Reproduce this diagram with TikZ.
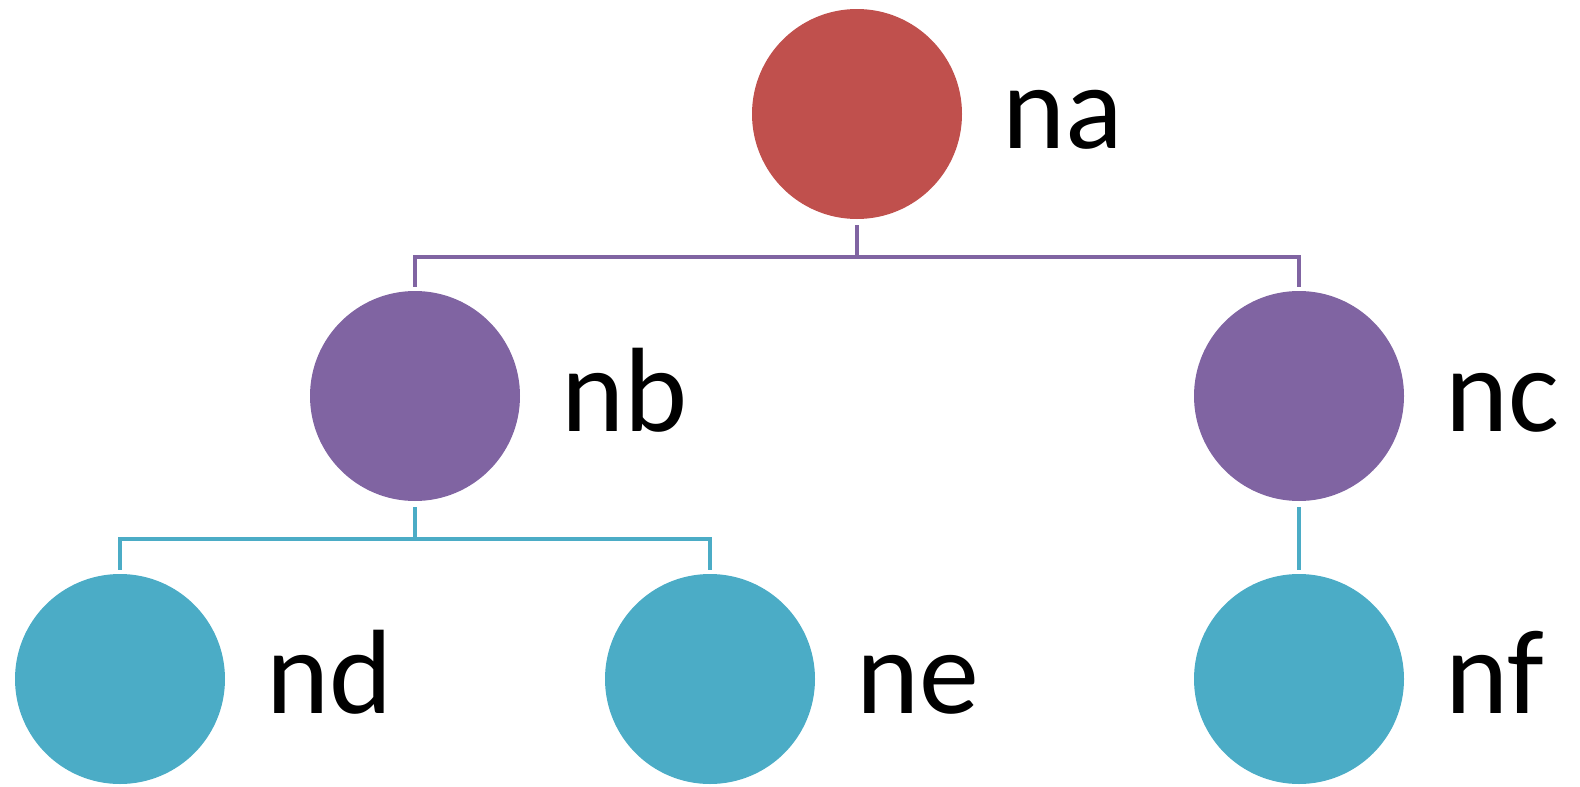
\documentclass[tikz,border=0pt]{standalone}
\usepackage{fontspec}
\setmainfont{Carlito}
\definecolor{cred}{HTML}{C0504D}
\definecolor{cpurple}{HTML}{8064A2}
\definecolor{cteal}{HTML}{4BACC6}
\begin{document}
\begin{tikzpicture}[x=1pt,y=-1pt,
  dot/.style={circle,minimum size=210pt,inner sep=0pt,draw=none},
  lbl/.style={anchor=base west,inner sep=0pt,font=\fontsize{120}{144}\selectfont},
  conn/.style={line width=4pt,line join=miter}]
\useasboundingbox (0,0) rectangle (1580,787);
\node[dot,fill=cred]    (na) at (857,114) {};
\node[dot,fill=cpurple] (nb) at (415,396) {};
\node[dot,fill=cpurple] (nc) at (1299,396) {};
\node[dot,fill=cteal]   (nd) at (120,679) {};
\node[dot,fill=cteal]   (ne) at (710,679) {};
\node[dot,fill=cteal]   (nf) at (1299,679) {};
\node[lbl] (la) at (1002,148) {na};
\node[lbl] (lb) at (561,431) {nb};
\node[lbl] (lc) at (1445,431) {nc};
\node[lbl] (ld) at (266,713) {nd};
\node[lbl] (le) at (856,713) {ne};
\node[lbl] (lf) at (1445,713) {nf};
\coordinate (ab) at (857,257);
\coordinate (bb) at (415,539);
\draw[conn,cpurple] ([yshift=-6pt]na.south) -- (ab);
\draw[conn,cpurple] ([yshift=4pt]nb.north) |- (ab) -| ([yshift=4pt]nc.north);
\draw[conn,cteal] ([yshift=-6pt]nb.south) -- (bb);
\draw[conn,cteal] ([yshift=4pt]nd.north) |- (bb) -| ([yshift=4pt]ne.north);
\draw[conn,cteal] ([yshift=-6pt]nc.south) -- ([yshift=4pt]nf.north);
\end{tikzpicture}
\end{document}
